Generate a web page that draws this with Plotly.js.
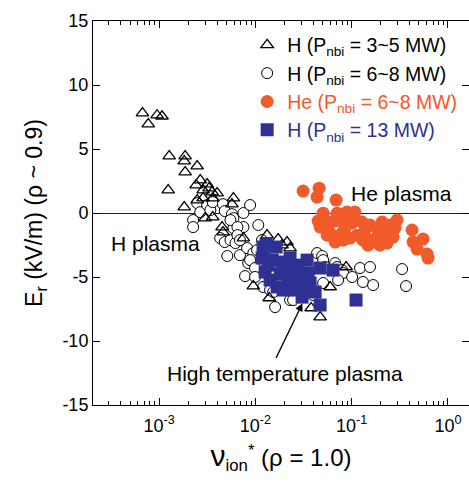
<!DOCTYPE html>
<html>
<head>
<meta charset="utf-8">
<script src="https://cdn.plot.ly/plotly-3.0.1.min.js"></script>
<style>html,body{margin:0;padding:0;background:#fff;}#chart{width:469px;height:482px;}</style>
</head>
<body>
<div id="chart"></div>
<script>
// H (Pnbi = 3~5 MW) triangles
const tri_x = [0.00067,0.00095,0.00107,0.00077,0.00127,0.00186,0.00182,0.00248,0.00186,0.00124,0.00267,0.00242,0.00315,0.0033,0.00355,0.0040,0.00286,0.0059,0.0057,0.00182,0.0036,0.00286,0.00248,0.0036,0.0045,0.0046,0.0075,0.0132,0.0172,0.0213,0.0229,0.0095,0.0139,0.0379,0.0597,0.047,0.0875,0.0030,0.0189];
const tri_y = [7.80,7.64,7.56,6.94,4.44,4.44,4.05,3.66,3.19,1.79,2.57,2.18,2.26,1.94,1.63,1.55,1.79,1.16,0.69,0.46,1.16,1.16,1.01,-0.32,-1.10,-1.49,-1.96,-1.73,-2.04,-2.27,-2.74,-5.71,-6.64,-7.42,-5.78,-8.13,-4.22,-0.40,-2.51];
// H (Pnbi = 6~8 MW) open circles
const circ_x = [0.00248,0.00225,0.00225,0.00267,0.00315,0.0034,0.0036,0.0046,0.0048,0.0057,0.0059,0.0075,0.0088,0.0075,0.0059,0.0107,0.0055,0.0065,0.0043,0.0048,0.0055,0.0062,0.0065,0.0051,0.0069,0.0082,0.0095,0.0104,0.0084,0.0088,0.0078,0.0099,0.0099,0.0120,0.0142,0.0153,0.0160,0.0229,0.0246,0.0397,0.0437,0.0493,0.0505,0.053,0.0673,0.0705,0.0794,0.0814,0.0722,0.101,0.122,0.155,0.131,0.167,0.0505,0.334,0.367,0.0117,0.0126,0.0181,0.0291,0.0328,0.0258,0.0069,0.0315];
const circ_y = [0.77,-0.55,-1.10,0.07,0.62,0.23,0.85,0.69,0.15,-0.09,-0.40,0.00,0.62,-1.10,-1.18,-0.94,-0.55,-1.10,-1.96,-2.27,-2.12,-2.35,-1.73,-3.36,-3.29,-2.74,-3.13,-2.90,-3.91,-3.68,-4.93,-4.30,-5.00,-5.78,-6.02,-6.17,-7.35,-6.80,-6.80,-6.41,-3.13,-3.36,-3.68,-4.22,-3.91,-4.22,-4.46,-4.69,-5.24,-5.00,-4.30,-4.22,-5.39,-5.63,-5.47,-4.38,-5.71,-2.12,-2.90,-4.46,-4.07,-5.63,-5.24,-2.12,-6.28];
// He (Pnbi = 6~8 MW) filled circles
const he_x = [0.0313,0.0459,0.0437,0.0689,0.0505,0.0705,0.0895,0.108,0.047,0.0448,0.0597,0.0673,0.0794,0.0556,0.0597,0.0673,0.0814,0.0794,0.0853,0.101,0.114,0.128,0.155,0.184,0.131,0.148,0.184,0.212,0.233,0.197,0.251,0.296,0.282,0.269,0.424,0.551,0.434,0.478,0.607,0.621,0.207,0.096,0.138,0.163];
const he_y = [1.71,1.94,1.24,1.01,-0.01,-0.01,0.07,0.07,-1.10,-0.63,-0.71,-0.63,-0.32,-1.73,-1.57,-2.27,-2.12,-1.57,-1.18,-0.79,-1.73,-0.71,-0.94,-1.18,-2.12,-2.51,-1.88,-1.57,-2.35,-2.51,-0.94,-0.55,-1.18,-1.88,-1.33,-2.04,-2.27,-2.82,-3.21,-3.52,-0.71,-1.96,-1.33,-2.12];
// H (Pnbi = 13 MW) filled squares
const sq_x = [0.0129,0.0164,0.0117,0.0149,0.0194,0.0126,0.0142,0.0181,0.0203,0.0240,0.0291,0.0344,0.047,0.0353,0.0271,0.0328,0.0194,0.0168,0.0305,0.0417,0.047,0.0641,0.111,0.0229,0.0258,0.037,0.0135,0.0219,0.0120,0.0229,0.0271];
const sq_y = [-2.43,-2.66,-3.52,-3.68,-3.83,-4.61,-5.24,-4.77,-4.46,-4.22,-4.85,-3.68,-4.30,-4.69,-5.24,-5.78,-6.02,-5.78,-6.57,-6.17,-7.19,-4.46,-6.80,-5.39,-6.02,-5.47,-4.07,-5.08,-2.66,-3.52,-4.07];

const series_names = [
  'H (P<sub>nbi</sub> = 3~5 MW)',
  'H (P<sub>nbi</sub> = 6~8 MW)',
  '<span style="color:#f15a29">He (P<sub>nbi</sub> = 6~8 MW)</span>',
  '<span style="color:#2e3192">H (P<sub>nbi</sub> = 13 MW)</span>'
];
const x_tickvals = [0.001, 0.01, 0.1, 1];
const x_ticktext = ['10<sup>-3</sup>', '10<sup>-2</sup>', '10<sup>-1</sup>', '10<sup>0</sup>'];
const y_tickvals = [-15, -10, -5, 0, 5, 10, 15];
const y_ticktext = ['-15', '-10', '-5', '0', '5', '10', '15'];

const FONT = 'Liberation Sans, Arial, Helvetica, sans-serif';
const NB = '\u00A0';

const traces = [
  {x: circ_x, y: circ_y, name: series_names[1], type: 'scatter', mode: 'markers', legendrank: 2,
   marker: {symbol: 'circle', size: 11, color: '#ffffff', line: {color: '#000', width: 1}}},
  {x: tri_x, y: tri_y, name: series_names[0], type: 'scatter', mode: 'markers', legendrank: 1,
   marker: {symbol: 'triangle-up-open', size: 11, color: '#000', line: {color: '#000', width: 1.3}}},
  {x: he_x, y: he_y, name: series_names[2], type: 'scatter', mode: 'markers', legendrank: 3,
   marker: {symbol: 'circle', size: 13, color: '#f15a29', line: {width: 0}}},
  {x: sq_x, y: sq_y, name: series_names[3], type: 'scatter', mode: 'markers', legendrank: 4,
   marker: {symbol: 'square', size: 13, color: '#2e3192', line: {width: 0}}}
];

const layout = {
  width: 469, height: 482,
  margin: {l: 93, r: 0, t: 21, b: 77, pad: 0},
  paper_bgcolor: '#fff', plot_bgcolor: '#fff',
  font: {family: FONT, color: '#000', size: 18},
  showlegend: true,
  legend: {x: 0.41, y: 0.988, xanchor: 'left', yanchor: 'top', bgcolor: 'rgba(0,0,0,0)',
           font: {size: 19.5, family: FONT}, tracegroupgap: 0},
  xaxis: {
    type: 'log', range: [-3.688, 0.219], autorange: false,
    tickvals: x_tickvals, ticktext: x_ticktext,
    ticks: 'inside', ticklen: 7, tickwidth: 1, tickcolor: '#000',
    ticklabelstandoff: 4,
    minor: {ticks: 'inside', ticklen: 4, tickwidth: 1, tickcolor: '#000', dtick: 'D1', showgrid: false},
    showline: true, linecolor: '#000', linewidth: 1, mirror: 'ticks',
    showgrid: false, zeroline: false,
    tickfont: {size: 18, family: FONT},
    title: {text: NB + NB + NB + '<span style="font-size:30px">ν</span><sub>ion</sub><sup>*</sup> (ρ = 1.0)',
            font: {size: 24, family: FONT}, standoff: 14}
  },
  yaxis: {
    range: [-15, 15], autorange: false,
    tickvals: y_tickvals, ticktext: y_ticktext,
    ticks: 'inside', ticklen: 7, tickwidth: 1, tickcolor: '#000',
    showline: true, linecolor: '#000', linewidth: 1, mirror: 'ticks',
    showgrid: false, zeroline: true, zerolinecolor: '#222', zerolinewidth: 1,
    tickfont: {size: 18, family: FONT},
    title: {text: 'E<sub>r</sub> (kV/m) (ρ ~ 0.9)' + NB + NB + NB + NB,
            font: {size: 23, family: FONT}, standoff: 13}
  },
  annotations: [
    {x: -0.48, y: 1.55, xref: 'x', yref: 'y', text: 'He plasma', showarrow: false,
     font: {size: 21, family: FONT, color: '#000'}},
    {x: -3.0415, y: -2.35, xref: 'x', yref: 'y', text: 'H plasma', showarrow: false,
     font: {size: 21, family: FONT, color: '#000'}},
    {x: -1.692, y: -12.5, xref: 'x', yref: 'y', text: 'High temperature plasma', showarrow: false,
     font: {size: 21, family: FONT, color: '#000'}},
    {x: -1.512, y: -7.06, xref: 'x', yref: 'y', text: '', showarrow: true,
     ax: -27, ay: 56, arrowhead: 2, arrowsize: 1.2, arrowwidth: 1.3, arrowcolor: '#000', standoff: 0}
  ]
};

Plotly.newPlot('chart', traces, layout, {displayModeBar: false, staticPlot: true});
</script>
</body>
</html>
